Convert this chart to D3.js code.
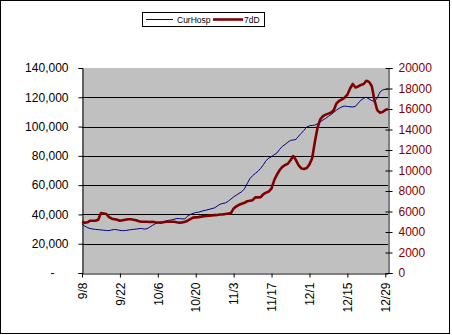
<!DOCTYPE html>
<html><head><meta charset="utf-8">
<script src="https://cdn.jsdelivr.net/npm/d3@7"></script>
<style>body{margin:0;background:#fff}svg{display:block}text{font-family:"Liberation Sans",Arial,sans-serif}</style>
</head><body>
<script>
const startDate = "2020-09-08";
const curHosp = [33500,32000,31000,30400,30000,29800,29600,29400,29200,29000,
29000,29400,29700,29500,29100,28900,29000,29300,29600,29800,
30000,30300,30400,30000,30200,31300,32500,33600,34300,34700,
35000,35500,36000,36200,36700,37200,37200,36900,37000,38800,
40000,40700,41300,41500,42100,42600,43000,43500,44000,44500,
45800,47000,47500,47900,49000,50500,52000,53200,54400,55500,
57500,61000,64500,66500,68000,69500,71500,74000,76800,78500,
79500,80800,82000,84500,86500,87800,89300,90600,90800,91200,
93500,95500,97500,99800,100500,100800,101000,102000,103300,104500,
105600,107000,108200,109800,111300,112500,113500,114000,113700,113500,
113400,113800,116000,118000,119300,120000,118800,117700,117000,119500,
123500,125000,125400,125600];
const d7 = [5000,4900,4950,5100,5100,5100,5200,5850,5800,5750,
5450,5300,5250,5200,5100,5150,5200,5250,5250,5200,
5150,5050,5000,5000,5000,4980,5000,4950,4920,4910,
4950,5000,5000,5000,5000,4950,4910,4920,5000,5100,
5250,5400,5430,5450,5500,5550,5560,5600,5620,5650,
5660,5700,5720,5760,5800,5850,6300,6500,6650,6750,
6850,7000,7050,7100,7380,7380,7400,7700,7840,7950,
8260,9070,9600,10050,10350,10540,10650,11000,11410,11020,
10500,10200,10150,10250,10600,11190,12810,14200,15000,15300,
15450,15550,15650,15900,16550,16800,16950,17100,17400,18000,
18440,18100,18200,18350,18440,18760,18650,18240,16880,15900,
15640,15700,15900,16000];
const xTickLabels = ["9/8","9/22","10/6","10/20","11/3","11/17","12/1","12/15","12/29"];
const leftTicks = [0,20000,40000,60000,80000,100000,120000,140000];
const rightTicks = [0,2000,4000,6000,8000,10000,12000,14000,16000,18000,20000];
const seriesNames = ["CurHosp","7dD"];

const W=452,H=335, L=82, R=388, T=68, B=273;
const parse = d3.timeParse("%Y-%m-%d");
const d0 = parse(startDate);
const dates = curHosp.map((_,i)=>d3.timeDay.offset(d0,i));
const x = d3.scaleTime().domain([d0, d3.timeDay.offset(d0, curHosp.length-1)]).range([L, R]);
const yL = d3.scaleLinear().domain([0,140000]).range([B,T]);
const yR = d3.scaleLinear().domain([0,20000]).range([B,T]);

const svg = d3.select("body").append("svg").attr("width",W).attr("height",H);
svg.append("rect").attr("x",0.5).attr("y",0.5).attr("width",449).attr("height",333).attr("fill","#fff").attr("stroke","#000");
svg.append("rect").attr("x",L).attr("y",T).attr("width",R-L).attr("height",B-T).attr("fill","#C0C0C0");
// gridlines
svg.append("g").selectAll("line").data(leftTicks.filter(v=>v>0&&v<140000)).join("line")
  .attr("x1",L).attr("x2",R).attr("y1",d=>Math.round(yL(d))+0.5).attr("y2",d=>Math.round(yL(d))+0.5)
  .attr("stroke","#000");

// left axis
const gL = svg.append("g").attr("transform",`translate(${L+0.5},0)`)
  .call(d3.axisLeft(yL).tickValues(leftTicks).tickSize(4).tickPadding(10)
    .tickFormat(v=> v===0 ? "-" : d3.format(",")(v)));
gL.selectAll("text").attr("font-size",12).attr("fill","#000").attr("dx",v=>v===0?"-14":0);
gL.select(".domain").attr("stroke","#000");
// right axis
const gR = svg.append("g").attr("transform",`translate(${R+0.5},0)`)
  .call(d3.axisRight(yR).tickValues(rightTicks).tickSize(4).tickPadding(6).tickFormat(d3.format("d")));
gR.selectAll(".tick line").attr("x1",-3);
gR.selectAll("text").attr("font-size",12).attr("fill","#800000");
gR.select(".domain").attr("stroke","#000");
// x axis
const tickDates = xTickLabels.map((_,i)=>d3.timeDay.offset(d0,14*i));
const gX = svg.append("g").attr("transform",`translate(0,${B+0.5})`)
  .call(d3.axisBottom(x).tickValues(tickDates).tickSize(4).tickSizeOuter(0).tickFormat((d,i)=>xTickLabels[i]));
gX.selectAll("text").attr("font-size",12).attr("fill","#000")
  .attr("transform","rotate(-90)").attr("text-anchor","end").attr("dy","0.35em").attr("x",-9).attr("y",0);
gX.select(".domain").attr("stroke","#000");

// lines
svg.append("path").datum(curHosp).attr("fill","none").attr("stroke","#000080").attr("stroke-width",1)
  .attr("d", d3.line().x((d,i)=>x(dates[i])).y(d=>yL(d)));
svg.append("path").datum(d7).attr("fill","none").attr("stroke","#800000").attr("stroke-width",2.6)
  .attr("stroke-linejoin","round")
  .attr("d", d3.line().x((d,i)=>x(dates[i])).y(d=>yR(d)));

// legend
const lg = svg.append("g");
lg.append("rect").attr("x",142.5).attr("y",12.5).attr("width",122).attr("height",14).attr("fill","#fff").attr("stroke","#000");
lg.append("line").attr("x1",146).attr("x2",173).attr("y1",19.5).attr("y2",19.5).attr("stroke","#000080").attr("stroke-width",1);
lg.append("text").attr("x",177).attr("y",23).attr("font-size",8.5).text(seriesNames[0]);
lg.append("line").attr("x1",213).attr("x2",243).attr("y1",19.5).attr("y2",19.5).attr("stroke","#800000").attr("stroke-width",2.6);
lg.append("text").attr("x",244).attr("y",23).attr("font-size",8.5).text(seriesNames[1]);
</script>
</body></html>
